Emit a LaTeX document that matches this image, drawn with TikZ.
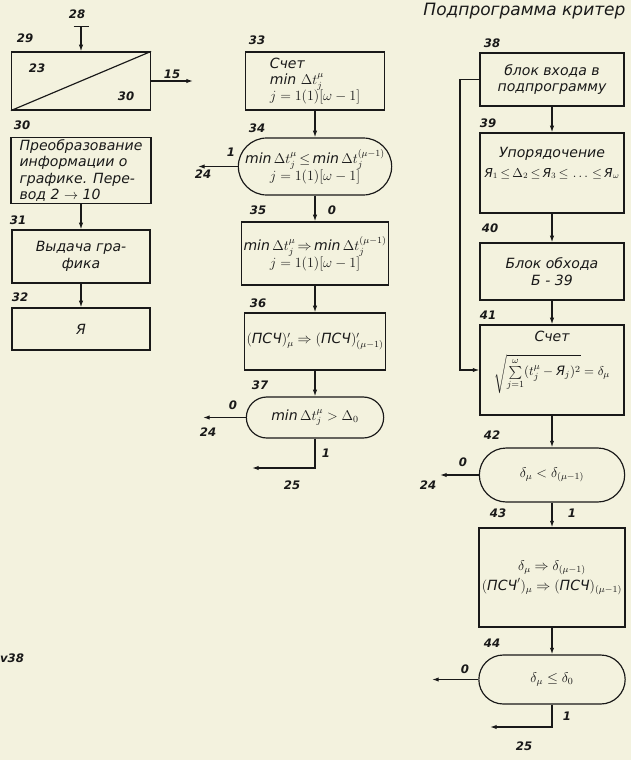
\documentclass[tikz,border=0pt]{standalone}
\usepackage{amsmath,amssymb}
\usepackage{fontspec}
\setmainfont{DejaVu Sans}
\usepackage{tikz}
\usetikzlibrary{arrows.meta,shapes.misc}
\definecolor{paper}{RGB}{243,242,222}
\definecolor{ink}{RGB}{25,25,25}

\begin{document}
\begin{tikzpicture}[x=0.3mm,y=-0.3mm,
  font=\fontsize{12}{14}\selectfont\itshape,
  line width=1pt, draw=ink, text=ink,
  blk/.style 2 args={draw,rectangle,inner sep=2pt,minimum width=#1*0.3mm,minimum height=#2*0.3mm,align=center},
  trm/.style 2 args={draw,rounded rectangle,inner sep=2pt,minimum width=#1*0.3mm,minimum height=#2*0.3mm,align=center},
  num/.style={font=\fontsize{10}{12}\selectfont\bfseries\itshape},
  arr/.style={-{Latex[length=2mm,width=1.3mm]}}]
% page: 631 x 760 px, 1 px = 0.3 mm
\useasboundingbox (0,0) rectangle (631,760);
\fill[paper] (0,0) rectangle (631,760);
\node[anchor=west, font=\fontsize{14.5}{16}\selectfont\itshape] (title) at (419,11) {Подпрограмма критер};

% left column (29--32)
\node[blk={139}{58}] (b29) at (81,81) {};
\draw (b29.south west) -- (b29.north east);
\node[num] (n23) at (37,68) {23};
\node[num] (n30i) at (126,96) {30};
\node[num] (l28) at (77,14) {28};
\coordinate (c28) at (81,26);
\draw[{Bar[width=4.5mm]}-{Latex[length=2mm,width=1.3mm]}] (c28) -- (b29.north);
\node[num] (l15) at (172,74) {15};
\coordinate (c15) at (193,81);
\draw[arr] (b29.east) -- (c15);
\node[blk={140}{65}, align=left] (b30) at (81,170.5) {Преобразование\\информации о\\графике. Пере-\\вод 2 $\rightarrow$ 10};
\node[blk={138}{53}] (b31) at (81,256.5) {Выдача гра-\\фика};
\node[blk={138}{42}] (b32) at (81,329) {Я};
\draw[arr] (b30.south) -- (b31.north);
\draw[arr] (b31.south) -- (b32.north);
\node[num] (l29) at (25,38) {29};
\node[num] (l30) at (22,125) {30};
\node[num] (l31) at (18,220) {31};
\node[num] (l32) at (20,297) {32};
\node[num] (v38) at (12,658) {v38};

% middle column (33--37)
\node[blk={139}{58}, align=left] (b33) at (315,81) {Счет\\$\mathit{min}\ \Delta t_j^{\mu}$\\$j=1(1)[\omega-1]$};
\node[trm={158}{57}] (t34) at (315,166.5) {$\mathit{min}\,\Delta t_j^{\mu}{\,\le\,}\mathit{min}\,\Delta t_j^{(\mu-1)}$\\$j=1(1)[\omega-1]$};
\node[blk={138}{63}] (b35) at (315,253.5) {$\mathit{min}\,\Delta t_j^{\mu}{\,\Rightarrow\,}\mathit{min}\,\Delta t_j^{(\mu-1)}$\\$j=1(1)[\omega-1]$};
\node[blk={138}{57}] (b36) at (315,341.5) {$(\text{ПСЧ})'_{\mu}\Rightarrow(\text{ПСЧ})'_{(\mu-1)}$};
\node[trm={142}{41}] (t37) at (315,417.5) {$\mathit{min}\,\Delta t_j^{\mu}>\Delta_0$};
\draw[arr] (b33.south) -- (t34.north);
\draw[arr] (t34.south) -- (b35.north);
\draw[arr] (b35.south) -- (b36.north);
\draw[arr] (b36.south) -- (t37.north);
\coordinate (e34) at (198,166.5);
\coordinate (e37) at (203,417.5);
\coordinate (e37b) at (252,468);
\draw[arr] (t34.west) -- (e34);
\draw[arr] (t37.west) -- (e37);
\draw[arr] (t37.south) |- (e37b);
\node[num] (l33) at (257,40) {33};
\node[num] (l34) at (257,128) {34};
\node[num] (l35) at (258,210) {35};
\node[num] (o35) at (332,210) {0};
\node[num] (l36) at (258,303) {36};
\node[num] (l37) at (260,385) {37};
\node[num] (o34) at (231,152) {1};
\node[num] (g34) at (203,174) {24};
\node[num] (o37) at (233,405) {0};
\node[num] (g37) at (208,432) {24};
\node[num] (i37) at (326,453) {1};
\node[num] (g37b) at (292,485) {25};

% right column (38--44)
\node[blk={144}{53}] (b38) at (552,79.5) {блок входа в\\подпрограмму};
\node[blk={144}{80}] (b39) at (552,173) {};
\node[anchor=north, align=center] (t39) at ([yshift=-3mm]b39.north) {Упорядочение\\[3pt]{\fontsize{10.5}{12}\selectfont$\text{Я}_1{\,\le\,}\Delta_2{\,\le\,}\text{Я}_3{\,\le\,}\ldots{\,\le\,}\text{Я}_{\omega}$}};
\node[blk={144}{57}] (b40) at (552,271.5) {Блок обхода\\Б - 39};
\node[blk={144}{90}] (b41) at (552,370) {};
\node[anchor=north, align=center] (t41) at ([yshift=-0.5mm]b41.north) {Счет\\[10pt]{\fontsize{11}{13}\selectfont$\sqrt{\sum\limits_{j=1}^{\omega}(t_j^{\mu}-\text{Я}_j)^2}=\delta_{\mu}$}};
\node[trm={150}{54}] (t42) at (552,475) {$\delta_{\mu}<\delta_{(\mu-1)}$};
\node[blk={146}{99}] (b43) at (552,577.5) {$\delta_{\mu}\Rightarrow\delta_{(\mu-1)}$\\[2pt]$(\text{ПСЧ}')_{\mu}\Rightarrow(\text{ПСЧ})_{(\mu-1)}$};
\node[trm={151}{49}] (t44) at (552,679.5) {$\delta_{\mu}\le\delta_0$};
\draw[arr] (b38.south) -- (b39.north);
\draw[arr] (b39.south) -- (b40.north);
\draw[arr] (b40.south) -- (b41.north);
\draw[arr] (b41.south) -- (t42.north);
\draw[arr] (t42.south) -- (b43.north);
\draw[arr] (b43.south) -- (t44.north);
\coordinate (lp) at (460,370);
\draw[arr] (b38.west) -| (lp) -- (b41.west);
\coordinate (e42) at (440,475);
\coordinate (e44) at (432,679.5);
\coordinate (e44b) at (490,727);
\draw[arr] (t42.west) -- (e42);
\draw[arr] (t44.west) -- (e44);
\draw[arr] (t44.south) |- (e44b);
\node[num] (l38) at (492,43) {38};
\node[num] (l39) at (488,123) {39};
\node[num] (l40) at (490,228) {40};
\node[num] (l41) at (488,315) {41};
\node[num] (l42) at (492,435) {42};
\node[num] (l43) at (498,513) {43};
\node[num] (i42) at (572,513) {1};
\node[num] (l44) at (492,643) {44};
\node[num] (o42) at (463,462) {0};
\node[num] (g42) at (428,485) {24};
\node[num] (o44) at (465,669) {0};
\node[num] (i44) at (567,716) {1};
\node[num] (g44) at (524,746) {25};
\end{tikzpicture}
\end{document}
